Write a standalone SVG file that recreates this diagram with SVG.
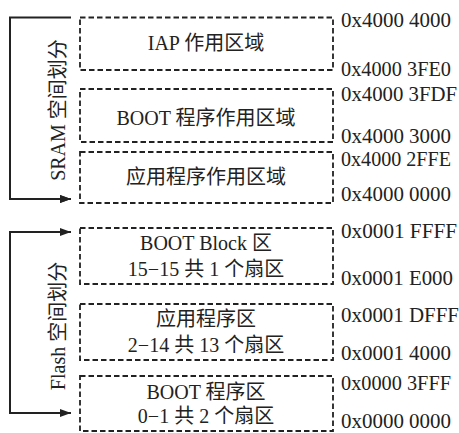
<svg xmlns="http://www.w3.org/2000/svg" width="459" height="433" viewBox="0 0 459 433">
<defs>
<marker id="ah" markerWidth="11" markerHeight="8" refX="11" refY="4" orient="auto" markerUnits="userSpaceOnUse">
<path d="M0,0 L11,4 L0,8 Z" fill="#222"/>
</marker>
<style>
.box{fill:none;stroke:#222;stroke-width:1.8;stroke-dasharray:5.5 3}
.t{font-family:"Liberation Serif","Noto Sans CJK SC",serif;font-size:20px;fill:#222}
.c{text-anchor:middle}
.a{font-family:"Liberation Serif",serif;font-size:21px;fill:#222}
.ln{fill:none;stroke:#222;stroke-width:2}
</style>
</defs>
<rect width="459" height="433" fill="#fff"/>
<g id="connectors">
<path class="ln" d="M71,17.5 H10 V199 H71" marker-end="url(#ah)"/>
<path class="ln" d="M10,199 H71" marker-end="url(#ah)"/>
<path class="ln" d="M71,232 H10 V413 H71" marker-end="url(#ah)"/>
<path class="ln" d="M10,232 H71" marker-end="url(#ah)"/>
</g>
<g id="sram-label"><text class="t c" transform="translate(65,110) rotate(-90)">SRAM 空间划分</text></g>
<g id="flash-label"><text class="t c" transform="translate(65,326) rotate(-90)">Flash 空间划分</text></g>
<g id="iap">
<rect class="box" x="80" y="17.5" width="253" height="52.5"/>
<text class="t c" x="206" y="50">IAP 作用区域</text>
</g>
<g id="boot-sram">
<rect class="box" x="80" y="89" width="253" height="53"/>
<text class="t c" x="206" y="125">BOOT 程序作用区域</text>
</g>
<g id="app-sram">
<rect class="box" x="80" y="152" width="253" height="51"/>
<text class="t c" x="206" y="184">应用程序作用区域</text>
</g>
<g id="boot-block">
<rect class="box" x="80" y="228" width="253" height="56"/>
<text class="t c" x="206" y="250">BOOT Block 区</text>
<text class="t c" x="206" y="276">15−15 共 1 个扇区</text>
</g>
<g id="app-flash">
<rect class="box" x="80" y="304" width="253" height="56"/>
<text class="t c" x="206" y="326">应用程序区</text>
<text class="t c" x="206" y="352">2−14 共 13 个扇区</text>
</g>
<g id="boot-flash">
<rect class="box" x="80" y="376" width="253" height="55"/>
<text class="t c" x="206" y="399">BOOT 程序区</text>
<text class="t c" x="206" y="423">0−1 共 2 个扇区</text>
</g>
<g id="addresses">
<text class="a" x="341" y="27" textLength="110" lengthAdjust="spacingAndGlyphs">0x4000 4000</text>
<text class="a" x="341" y="76" textLength="110" lengthAdjust="spacingAndGlyphs">0x4000 3FE0</text>
<text class="a" x="341" y="101" textLength="116" lengthAdjust="spacingAndGlyphs">0x4000 3FDF</text>
<text class="a" x="341" y="143" textLength="110" lengthAdjust="spacingAndGlyphs">0x4000 3000</text>
<text class="a" x="341" y="166" textLength="110" lengthAdjust="spacingAndGlyphs">0x4000 2FFE</text>
<text class="a" x="341" y="201" textLength="110" lengthAdjust="spacingAndGlyphs">0x4000 0000</text>
<text class="a" x="341" y="238" textLength="116" lengthAdjust="spacingAndGlyphs">0x0001 FFFF</text>
<text class="a" x="341" y="285" textLength="112" lengthAdjust="spacingAndGlyphs">0x0001 E000</text>
<text class="a" x="341" y="322" textLength="118" lengthAdjust="spacingAndGlyphs">0x0001 DFFF</text>
<text class="a" x="341" y="360" textLength="110" lengthAdjust="spacingAndGlyphs">0x0001 4000</text>
<text class="a" x="341" y="390" textLength="110" lengthAdjust="spacingAndGlyphs">0x0000 3FFF</text>
<text class="a" x="341" y="428" textLength="110" lengthAdjust="spacingAndGlyphs">0x0000 0000</text>
</g>
</svg>
